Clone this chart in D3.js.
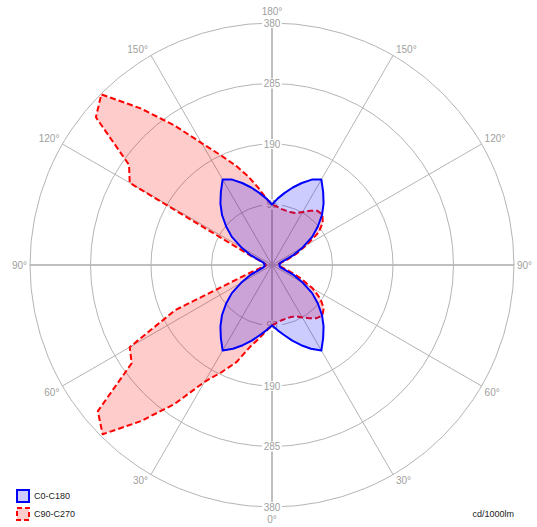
<!DOCTYPE html>
<html>
<head>
<meta charset="utf-8">
<script src="https://cdn.jsdelivr.net/npm/d3@7"></script>
<style>
  body { margin: 0; background: #fff; }
  svg text { font-family: "Liberation Sans", Arial, sans-serif; }
</style>
</head>
<body>
<svg id="polar" width="537" height="527"></svg>
<script>
// gamma angles, 0 = straight down, 180 = straight up
const gammas = d3.range(0, 181, 5);

// intensities in cd/1000lm
const c0 = [95, 103, 112, 123, 134, 145, 155, 140, 126, 111, 94, 77, 56, 38, 20, 14, 12, 12, 12,
  12, 12, 14, 20, 38, 56, 77, 94, 111, 126, 140, 155, 148, 137, 126, 115, 105, 95];
const c180 = c0.slice();
const c90 = [95, 91, 88, 87, 87, 89, 95, 102, 109, 112, 106, 93, 74, 50, 30, 18, 12, 10, 10,
  10, 11, 17, 27, 43, 63, 90, 104, 112, 111, 104, 96, 90, 88, 88, 89, 92, 95];
const c270 = [95, 104, 117, 133, 162, 185, 212, 266, 320, 376, 357, 269, 258, 168, 40, 20, 12, 10, 10,
  10, 11, 14, 22, 45, 258, 274, 361, 379, 321, 268, 221, 190, 166, 144, 123, 105, 95];

const ringValues = [95, 190, 285, 380];
const spokeAngles = [0, 30, 60, 90, 120, 150, 180];
const legendNames = ["C0-C180", "C90-C270"];
const unitLabel = "cd/1000lm";

var svg = d3.select("#polar"),
  cx = 272,
  cy = 265,
  R = 242;

var r = d3.scaleLinear().domain([0, 380]).range([0, R]);
// right half runs from bottom (pi) up to top (0), left half from bottom (pi) to top (2pi)
var angRight = d3.scaleLinear().domain([0, 180]).range([Math.PI, 0]);
var angLeft = d3.scaleLinear().domain([0, 180]).range([Math.PI, 2 * Math.PI]);

var g = svg.append("g").attr("transform", `translate(${cx},${cy})`);

// grid circles
g.selectAll(".ring")
  .data(ringValues)
  .enter()
  .append("circle")
  .attr("class", "ring")
  .attr("r", (d) => r(d))
  .attr("fill", "none")
  .attr("stroke", "#b4b4b4")
  .attr("stroke-width", 1);

// spokes (both sides)
var spokes = [];
spokeAngles.forEach((a) => {
  spokes.push(angRight(a));
  if (a > 0 && a < 180) spokes.push(angLeft(a));
});
g.selectAll(".spoke")
  .data(spokes)
  .enter()
  .append("line")
  .attr("x2", (d) => r(380) * Math.sin(d))
  .attr("y2", (d) => -r(380) * Math.cos(d))
  .attr("stroke", "#b4b4b4")
  .attr("stroke-width", (d) => (Math.abs(Math.sin(d)) < 1e-6 || Math.abs(Math.cos(d)) < 1e-6 ? 2 : 1))
  .attr("stroke-opacity", (d) => (Math.abs(Math.sin(d)) < 1e-6 || Math.abs(Math.cos(d)) < 1e-6 ? 0.85 : 1));

// ring labels along the vertical axis, top and bottom
var ringLabels = [];
ringValues.forEach((v) => {
  ringLabels.push({ v: v, y: -r(v) });
  ringLabels.push({ v: v, y: r(v) });
});
var rl = g.selectAll(".ringLabel").data(ringLabels).enter().append("g");
rl.append("rect")
  .attr("x", -10)
  .attr("y", (d) => d.y - 5)
  .attr("width", 20)
  .attr("height", 10)
  .attr("fill", "#fff");
rl.append("text")
  .attr("y", (d) => d.y)
  .attr("dy", "0.35em")
  .attr("text-anchor", "middle")
  .attr("fill", "#a0a0a0")
  .style("font-size", "10px")
  .text((d) => d.v);

// angle labels
var angleLabels = [];
spokeAngles.forEach((a) => {
  if (a === 0 || a === 180) {
    angleLabels.push({ a: a, x: 0, y: a === 0 ? R + 12 : -R - 12, anchor: "middle" });
  } else {
    var dy = a === 90 ? 0 : a < 90 ? 6 : -6;
    var t = angRight(a);
    angleLabels.push({ a: a, x: R * Math.sin(t) + 3, y: -R * Math.cos(t) + dy, anchor: "start" });
    t = angLeft(a);
    angleLabels.push({ a: a, x: R * Math.sin(t) - 3, y: -R * Math.cos(t) + dy, anchor: "end" });
  }
});
g.selectAll(".angleLabel")
  .data(angleLabels)
  .enter()
  .append("text")
  .attr("x", (d) => d.x)
  .attr("y", (d) => d.y)
  .attr("dy", "0.35em")
  .attr("text-anchor", (d) => d.anchor)
  .attr("fill", "#a0a0a0")
  .style("font-size", "10px")
  .text((d) => d.a + "°");

// curves
function curvePoints(rightVals, leftVals) {
  var pts = gammas.map((gm, i) => [angRight(gm), r(rightVals[i])]);
  for (var i = gammas.length - 2; i > 0; i--) pts.push([angLeft(gammas[i]), r(leftVals[i])]);
  return pts;
}
var radial = d3.lineRadial().curve(d3.curveLinearClosed);

var series = [
  { pts: curvePoints(c90, c270), fill: "rgba(255,0,0,0.2)", stroke: "#ff0000", dash: "6,3" },
  { pts: curvePoints(c0, c180), fill: "rgba(0,0,255,0.2)", stroke: "#0000ff", dash: null },
];
g.selectAll(".curve")
  .data(series)
  .enter()
  .append("path")
  .attr("class", "curve")
  .attr("d", (d) => radial(d.pts))
  .attr("fill", (d) => d.fill)
  .attr("stroke", (d) => d.stroke)
  .attr("stroke-width", 2)
  .attr("stroke-linejoin", "round")
  .attr("stroke-dasharray", (d) => d.dash);

// legend
var leg = svg.selectAll(".legend")
  .data(legendNames)
  .enter()
  .append("g")
  .attr("transform", (d, i) => `translate(17,${490 + i * 18})`);
leg.append("rect")
  .attr("width", 12)
  .attr("height", 12)
  .attr("fill", (d, i) => (i === 0 ? "#ccccff" : "#ffcccc"))
  .attr("stroke", (d, i) => (i === 0 ? "#0000ff" : "#ff0000"))
  .attr("stroke-width", 2)
  .attr("stroke-dasharray", (d, i) => (i === 0 ? null : "5,3"));
leg.append("text")
  .attr("x", 17)
  .attr("y", 6)
  .attr("dy", "0.35em")
  .attr("fill", "#222")
  .style("font-size", "9px")
  .text((d) => d);

svg.append("text")
  .attr("x", 514)
  .attr("y", 514)
  .attr("dy", "0.35em")
  .attr("text-anchor", "end")
  .attr("fill", "#222")
  .style("font-size", "9px")
  .text(unitLabel);
</script>
</body>
</html>
